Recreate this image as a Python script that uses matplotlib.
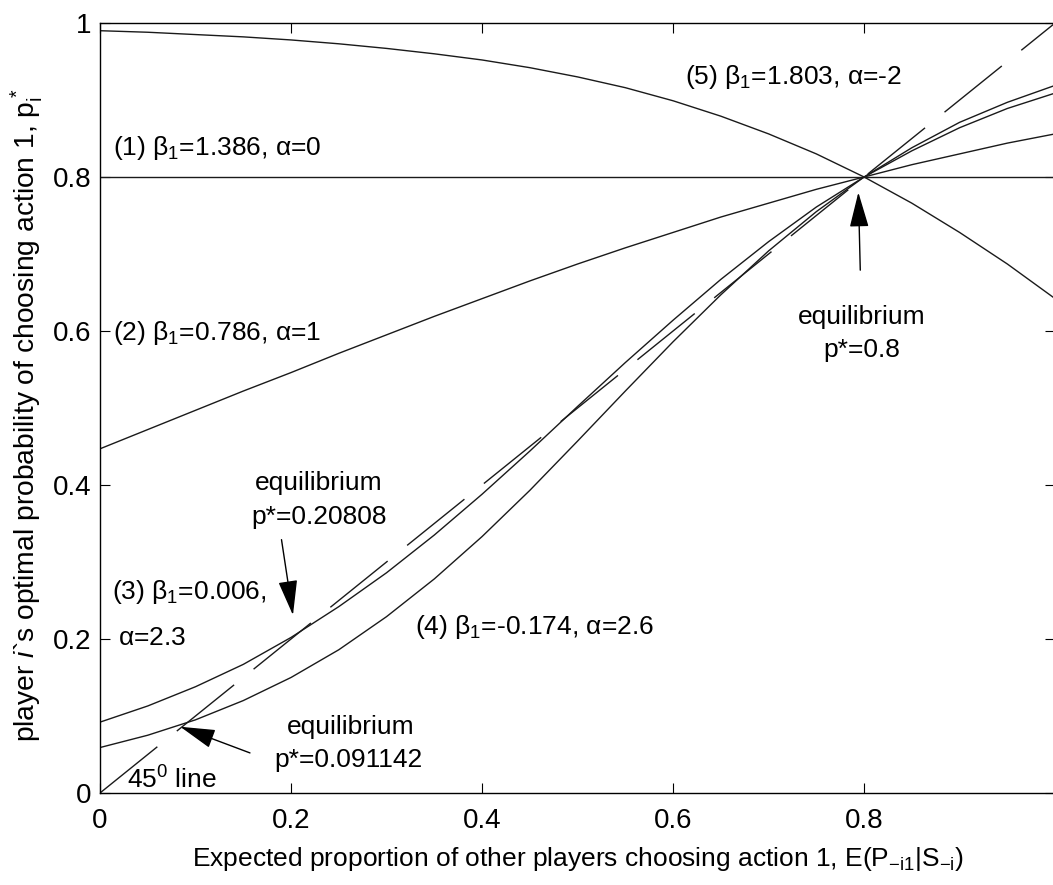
import matplotlib
matplotlib.use("Agg")
import matplotlib.pyplot as plt

plt.rcParams["font.family"] = ["Liberation Sans", "DejaVu Sans"]
plt.rcParams["mathtext.fontset"] = "custom"
plt.rcParams["mathtext.rm"] = "Liberation Sans"
plt.rcParams["mathtext.it"] = "Liberation Sans:italic"
plt.rcParams["mathtext.default"] = "regular"

# expected proportion of other players choosing action 1
x_vals = [0.00, 0.05, 0.10, 0.15, 0.20, 0.25, 0.30, 0.35, 0.40, 0.45, 0.50,
          0.55, 0.60, 0.65, 0.70, 0.75, 0.80, 0.85, 0.90, 0.95, 1.00]

# optimal probability curves
curve1 = [0.800, 0.800, 0.800, 0.800, 0.800, 0.800, 0.800, 0.800, 0.800, 0.800, 0.800,
          0.800, 0.800, 0.800, 0.800, 0.800, 0.800, 0.800, 0.800, 0.800, 0.800]
curve2 = [0.447, 0.472, 0.497, 0.522, 0.546, 0.571, 0.595, 0.619, 0.642, 0.665, 0.687,
          0.708, 0.728, 0.748, 0.766, 0.784, 0.800, 0.816, 0.830, 0.844, 0.856]
curve3 = [0.092, 0.113, 0.138, 0.167, 0.202, 0.242, 0.286, 0.335, 0.388, 0.444, 0.502,
          0.559, 0.614, 0.667, 0.716, 0.761, 0.800, 0.834, 0.864, 0.889, 0.909]
curve4 = [0.059, 0.075, 0.095, 0.120, 0.150, 0.186, 0.229, 0.278, 0.333, 0.393, 0.457,
          0.522, 0.586, 0.647, 0.704, 0.755, 0.800, 0.838, 0.871, 0.897, 0.919]
curve5 = [0.990, 0.988, 0.985, 0.982, 0.978, 0.973, 0.967, 0.960, 0.952, 0.942, 0.930,
          0.916, 0.899, 0.879, 0.856, 0.830, 0.800, 0.766, 0.728, 0.687, 0.642]
diag_x = [0.0, 1.0]
diag_y = [0.0, 1.0]

curve_labels = [
    r"(1) $\beta_1$=1.386, $\alpha$=0",
    r"(2) $\beta_1$=0.786, $\alpha$=1",
    r"(3) $\beta_1$=0.006,",
    r"$\alpha$=2.3",
    r"(4) $\beta_1$=-0.174, $\alpha$=2.6",
    r"(5) $\beta_1$=1.803, $\alpha$=-2",
]
x_ticks = [0.0, 0.2, 0.4, 0.6, 0.8]
x_tick_labels = ["0", "0.2", "0.4", "0.6", "0.8"]
y_ticks = [0.0, 0.2, 0.4, 0.6, 0.8, 1.0]
y_tick_labels = ["0", "0.2", "0.4", "0.6", "0.8", "1"]

fs = 19
line_col = "#1a1a1a"

fig = plt.figure(figsize=(10.53, 8.85), dpi=100)
ax = fig.add_axes([0.095, 0.104, 0.907, 0.870])

for cy in (curve1, curve2, curve3, curve4, curve5):
    ax.plot(x_vals, cy, color=line_col, lw=1.0)
ax.plot(diag_x, diag_y, color=line_col, lw=1.0, dashes=(53, 18))

ax.set_xlim(0, 1)
ax.set_ylim(0, 1)
ax.set_xticks(x_ticks, x_tick_labels)
ax.set_yticks(y_ticks, y_tick_labels)
ax.tick_params(direction="in", top=True, right=True, length=7, width=0.8,
               labelsize=20)
ax.tick_params(axis="x", pad=11)
ax.tick_params(axis="y", pad=6)
for sp in ax.spines.values():
    sp.set_linewidth(1.0)

ax.set_xlabel(r"Expected proportion of other players choosing action 1, E(P$_{-i1}$|S$_{-i}$)",
              fontsize=19, labelpad=8)
ax.set_ylabel(r"player $\mathit{i}$`s optimal probability of choosing action 1, p$^*_i$",
              fontsize=20.3)
ax.yaxis.set_label_coords(-0.058, 0.49)

# curve labels
ax.text(0.014, 0.838, curve_labels[0], fontsize=fs, va="center")
ax.text(0.014, 0.597, curve_labels[1], fontsize=fs, va="center")
ax.text(0.013, 0.261, curve_labels[2], fontsize=fs, va="center")
ax.text(0.019, 0.201, curve_labels[3], fontsize=fs, va="center")
ax.text(0.330, 0.216, curve_labels[4], fontsize=fs, va="center")
ax.text(0.613, 0.930, curve_labels[5], fontsize=fs, va="center")
ax.text(0.028, 0.017, r"45$^0$ line", fontsize=fs, va="center")

# equilibrium annotations
ax.text(0.229, 0.403, "equilibrium", fontsize=fs, ha="center", va="center")
ax.text(0.229, 0.358, "p*=0.20808", fontsize=fs, ha="center", va="center")
ax.text(0.262, 0.086, "equilibrium", fontsize=fs, ha="center", va="center")
ax.text(0.260, 0.043, "p*=0.091142", fontsize=fs, ha="center", va="center")
ax.text(0.798, 0.618, "equilibrium", fontsize=fs, ha="center", va="center")
ax.text(0.798, 0.575, "p*=0.8", fontsize=fs, ha="center", va="center")

arrow_kw = dict(arrowstyle="-|>,head_length=1.1,head_width=0.3", color="k",
                lw=1.0, shrinkA=0, shrinkB=0, mutation_scale=20)
ax.annotate("", xy=(0.202, 0.231), xytext=(0.190, 0.329), arrowprops=arrow_kw)
ax.annotate("", xy=(0.084, 0.086), xytext=(0.157, 0.052), arrowprops=arrow_kw)
ax.annotate("", xy=(0.794, 0.780), xytext=(0.796, 0.679), arrowprops=arrow_kw)

fig.savefig("out.png", dpi=100)
